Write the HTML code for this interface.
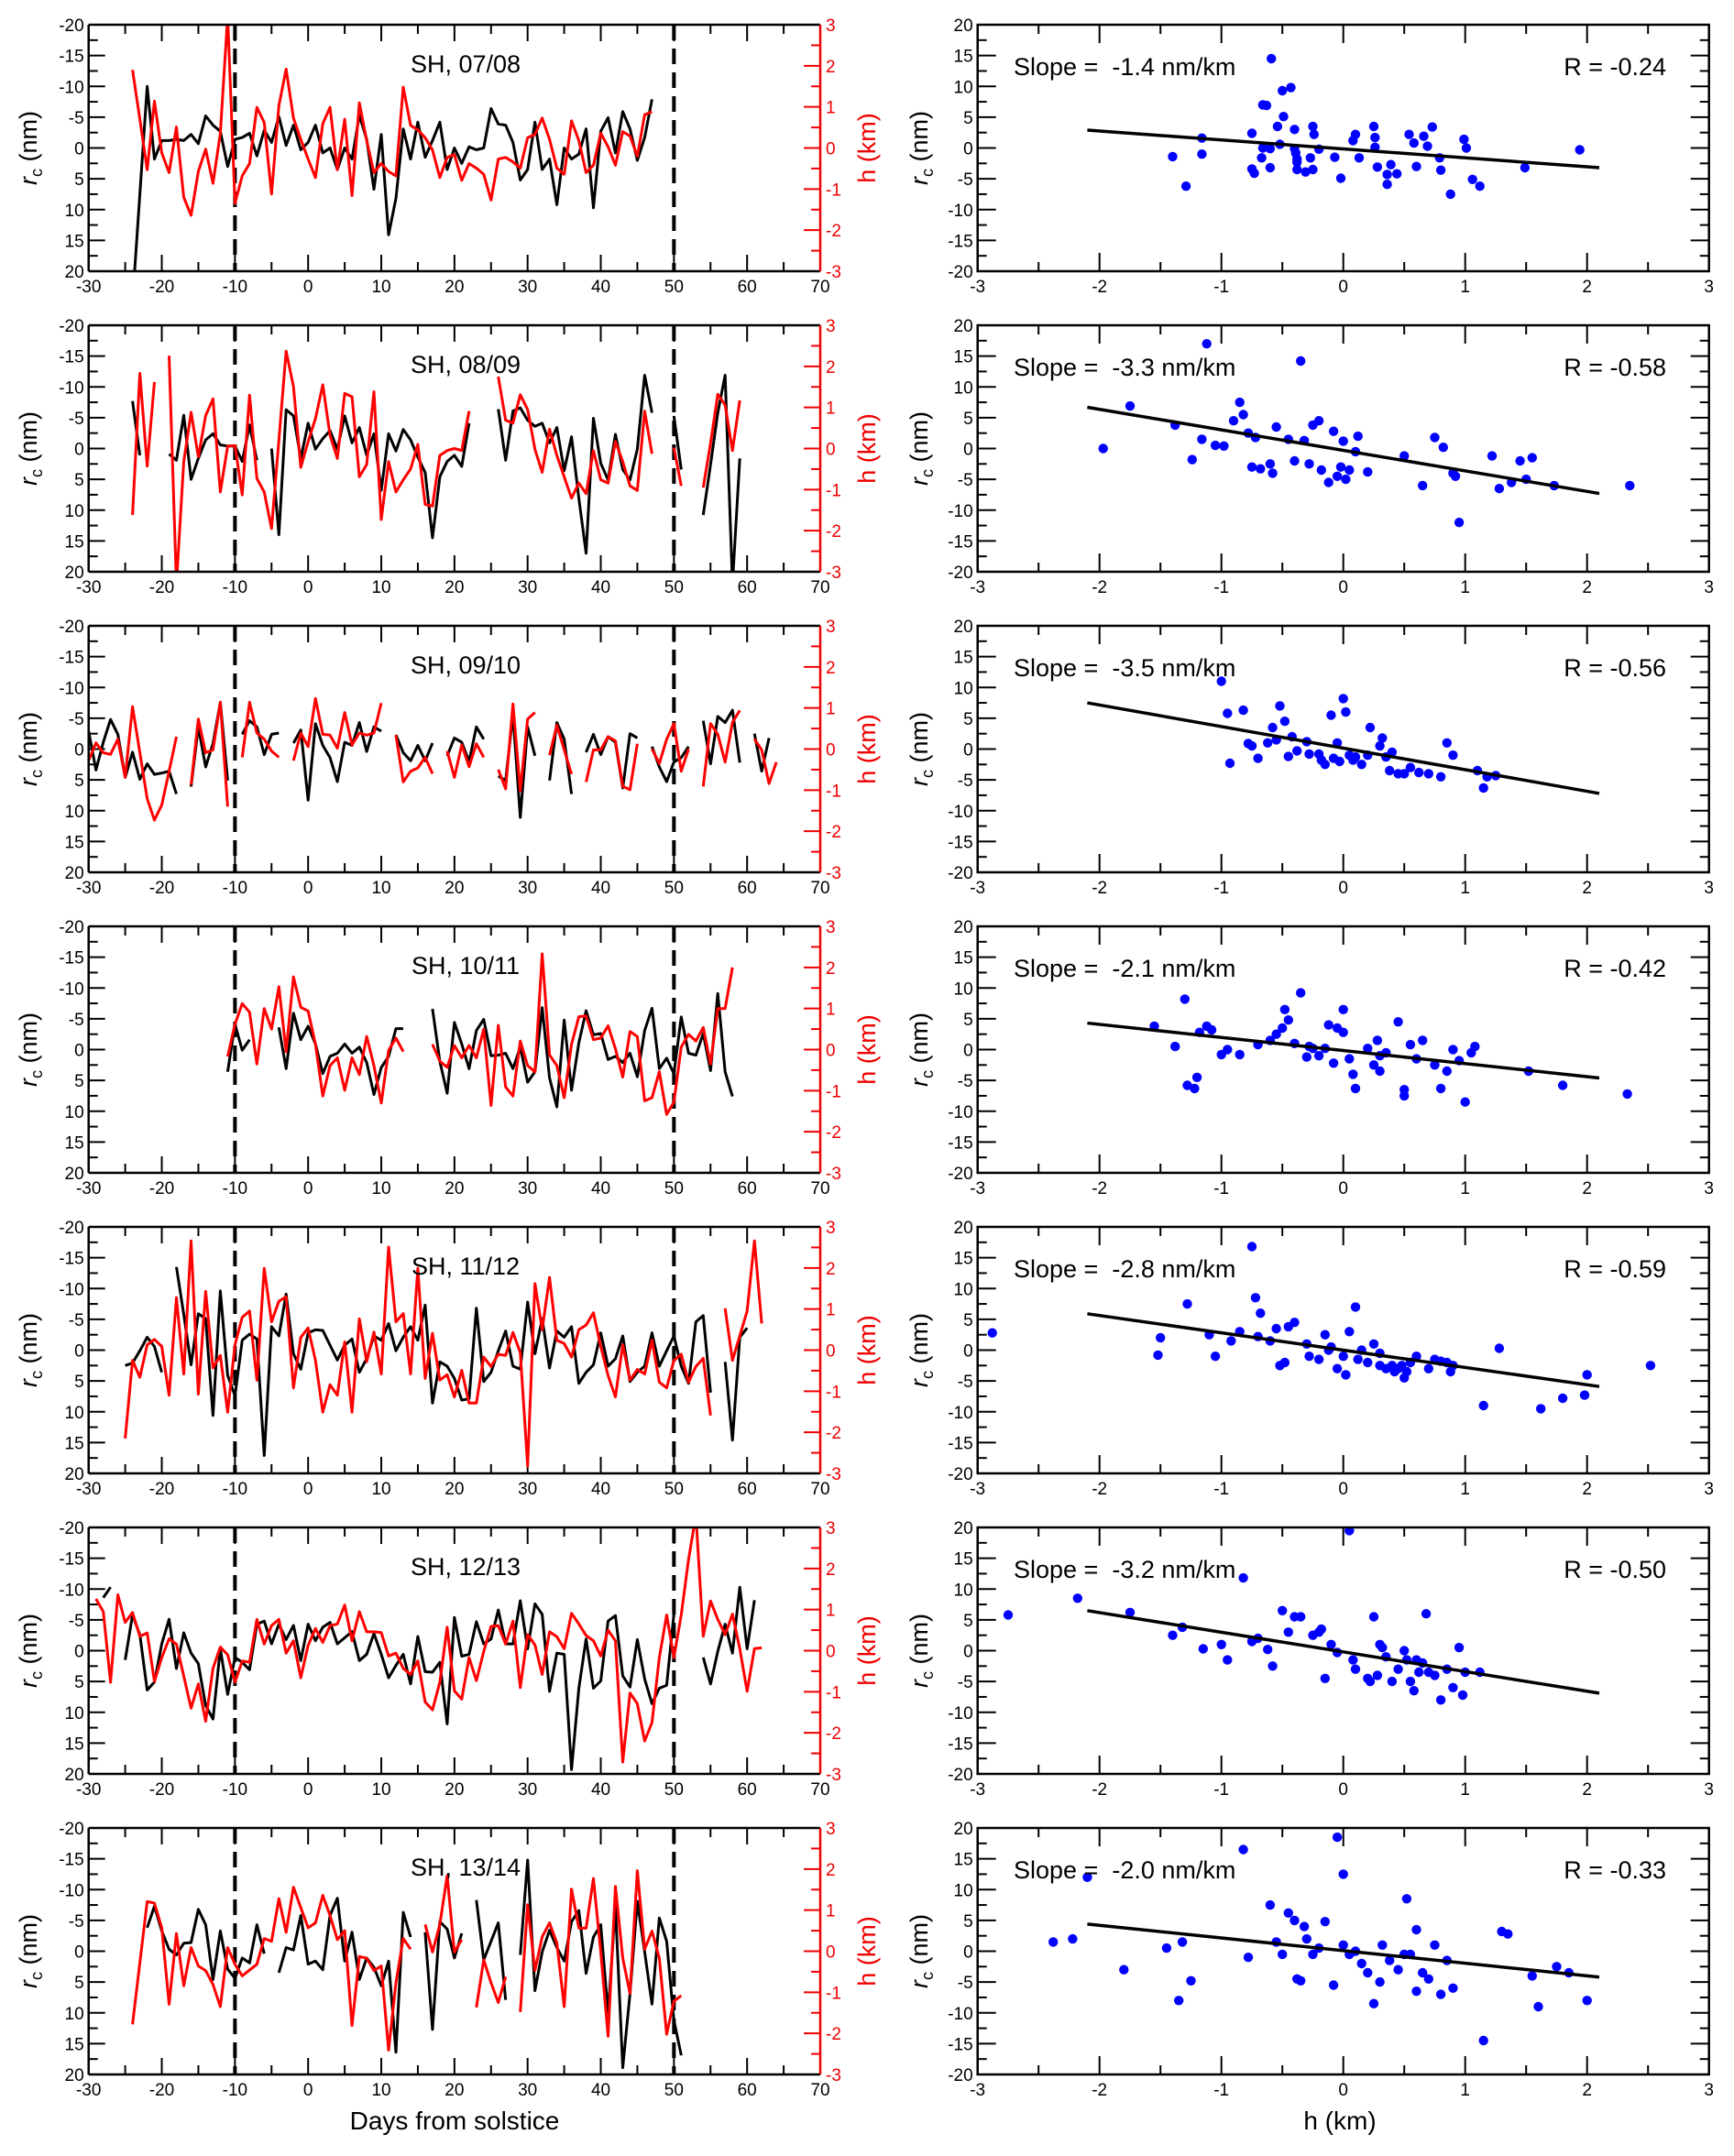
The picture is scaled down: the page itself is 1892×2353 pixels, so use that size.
<!DOCTYPE html>
<html><head><meta charset="utf-8"><title>SH rc vs h</title>
<style>
html,body{margin:0;padding:0;background:#fff;}
svg{display:block;font-family:"Liberation Sans",sans-serif;}
</style></head>
<body>
<svg id="fig" xmlns="http://www.w3.org/2000/svg" width="1892" height="2353" viewBox="0 0 1892 2353">
<rect x="0" y="0" width="1892" height="2353" fill="#fff"/>
<text x="496" y="2324" font-size="28" text-anchor="middle">Days from solstice</text>
<text x="1462" y="2324" font-size="28" text-anchor="middle">h (km)</text>
</svg>
<script>
// ---- data ----
const seasons = ["SH, 07/08","SH, 08/09","SH, 09/10","SH, 10/11","SH, 11/12","SH, 12/13","SH, 13/14"];
const slopeLabels = ["-1.4","-3.3","-3.5","-2.1","-2.8","-3.2","-2.0"];
const rLabels = ["-0.24","-0.58","-0.56","-0.42","-0.59","-0.50","-0.33"];
const fitSlope = [-1.45,-3.33,-3.5,-2.12,-2.81,-3.19,-2.05];
const fitIntercept = [-0.15,-0.3,0.15,-0.15,0,-0.2,0.1];
const rcStart = [-24,-24,-30,-11,-25,-28,-22];
const hStart = [-24,-24,-30,-11,-25,-29,-24];
const n=null;
const rc0=[25,7.5,-10,1.8,-1.2,-1.2,-1.4,-1.2,-2.2,-0.7,-5.2,-3.7,-2.7,3.0,-1.4,-1.7,-2.4,1.3,-2.9,-0.9,-5.1,-0.4,-3.7,0.3,-0.9,-3.7,0.8,0,3.5,0,1.8,-5.3,-1.4,6.7,-2.2,14.1,8.2,-3.1,1.8,-4.2,1.5,-1.2,-4.2,3.5,0,2.5,-0.2,0.3,0,-6.4,-3.9,-3.7,-0.9,5.2,3.5,-4.2,3.5,1.8,9.2,0,1.8,1.0,-3.1,9.7,-2.7,-4.9,0.8,-5.9,-3.1,2.0,-1.7,-7.9];
const h0=[1.9,0.7,-0.53,1.14,-0.12,-0.6,0.51,-1.2,-1.64,-0.57,-0.03,-0.86,0.36,3.2,-1.35,-0.68,-0.38,0.99,0.62,-1.12,1.03,1.92,0.73,0.21,-0.27,-0.72,0.59,0.99,-0.53,0.7,-1.16,1.1,0.18,-0.6,-0.38,-0.57,-0.68,1.48,0.55,0.44,0.25,-0.05,-0.72,-0.23,-0.16,-0.79,-0.38,-0.49,-0.64,-1.27,-0.27,-0.23,-0.34,-0.49,0.25,0.33,0.73,0.21,-0.49,-0.64,0.66,0.18,-0.6,-0.42,0.36,0.03,-0.42,0.4,0.29,-0.2,0.81,0.88];
const rc1=[-7.7,1.1,n,n,n,0.9,1.9,-5.4,5.0,1.6,-1.4,-2.4,-0.6,-0.4,-0.4,2.1,-3.8,1.9,n,0,14,-6.3,-5.3,1.6,-4.1,0.1,-1.6,-2.9,0.1,-5.3,-0.9,-3.4,1.1,-2.4,6.8,-2.4,0.4,-3.1,-1.4,1.4,3.9,14.5,4.6,2.1,1.1,2.9,-4.1,n,n,n,-6.4,1.9,-6.1,-6.6,-4.6,-3.6,-4.1,-0.9,-3.4,3.6,-1.9,8.1,17,-4.9,2.4,5.1,-2.3,3.4,5.1,0.1,-11.9,-5.8,n,n,-5.3,3.4,n,n,10.8,2.6,-5.8,-11.9,22,1.6];
const h1=[-1.62,1.83,-0.43,1.62,n,2.26,-3.3,-0.32,0.88,-0.2,0.8,1.21,-1.06,0.06,0.07,-1.13,1.3,-0.73,-1.06,-1.95,0.2,2.37,1.51,-0.46,0.17,0.73,1.55,0.32,-0.24,1.34,1.26,-0.69,-0.39,1.38,-1.73,-0.32,-1.06,-0.76,-0.5,0.1,-1.36,-1.4,-0.17,-0.05,0,-0.05,0.91,n,n,n,1.75,0.69,0.62,1.31,0.95,-0.02,-0.58,0.47,-0.17,-0.69,-1.21,-0.84,-1.1,-0.05,-0.76,-0.84,0.17,-0.32,-0.91,-1.02,0.91,-0.13,n,n,0.02,-0.91,n,n,-0.95,0.13,1.32,1.06,-0.05,1.17];
const rc2=[-2.9,3.4,-1.1,-4.8,-2.4,4.6,0.5,4.9,2.4,4.1,3.9,3.6,7.3,n,6.1,-3.6,2.9,-0.9,-7.6,5.1,n,-2.4,-4.6,-3.6,0.9,-2.4,-2.6,n,-0.96,-3.1,8.3,-4.1,-0.6,1.4,5.3,-1.1,-0.6,-4.3,0.4,-3.6,-2.9,n,-2.3,0.6,1.9,-0.6,1.9,-0.96,n,1.1,-1.8,-1.1,2.0,-3.6,-1.6,n,4.4,5.1,-5.6,11.1,-3.6,1.1,n,5.1,-4.3,-1.6,7.3,n,0.5,-2.4,0.9,-2.0,-1.1,6.3,-2.5,-1.8,n,-0.4,2.9,5.3,2.1,1.4,-0.4,n,-4.6,2.4,-5.3,-4.3,-6.3,2.2,n,-2.5,3.6,-1.8];
const h2=[-0.28,0.15,-0.09,-0.13,0.24,-0.69,1.03,-0.09,-1.21,-1.73,-1.36,-0.54,0.3,n,-0.87,0.73,-0.09,-0.02,1.14,-1.4,n,-0.2,1.14,0.39,0.24,-0.05,-0.2,n,-0.28,0.39,0.06,1.23,0.36,0.34,0.02,0.89,0.1,0.39,0.34,0.39,1.12,n,0.34,-0.8,-0.54,-0.46,-0.2,-0.6,n,-0.05,-0.69,0.1,-0.43,0.13,-0.2,n,-0.5,-0.97,1.1,-1.02,0.73,0.89,n,-0.15,0.58,-0.02,-0.61,n,-0.8,-0.02,-0.02,0.3,0.2,-0.91,-0.99,0.13,n,0,-0.35,0.24,0.62,-0.54,0,n,-0.91,0.62,0.36,-0.32,0.65,0.94,n,0.24,-0.02,-0.84,-0.32];
const rc3=[3.6,-4.1,0.1,-1.6,n,n,n,-3.6,3.1,-5.9,-1.6,-3.8,-0.9,3.9,1.1,0.6,-0.9,0.6,-0.4,2.1,7.3,2.9,1.1,-3.4,-3.4,n,n,n,-6.6,1.9,7.1,-4.4,-0.9,3.1,-3.1,-4.9,1.0,0.9,0.6,3.1,-0.4,5.3,3.6,-6.8,4.6,9.3,-4.8,6.6,-1.1,-6.3,-2.4,-2.6,1.6,1.1,2.1,0.6,4.4,-3.1,-6.7,3.1,1.4,3.9,-5.3,0.6,0.9,-2.6,3.4,-9.1,3.6,7.6];
const h3=[-0.17,0.62,1.12,0.91,-0.35,1.0,0.5,1.53,-0.05,1.77,1.03,0.94,0.13,-1.13,-0.39,-0.2,-0.99,-0.2,-0.61,0.32,-0.39,-1.3,-0.02,0.28,-0.05,n,n,n,0.13,-0.28,-0.43,0.1,-0.2,0.1,-0.2,0.5,-1.36,0.59,-0.91,-1.13,0.21,-0.39,-0.54,2.33,-0.13,-0.39,-1.17,0.13,0.8,0.82,0.24,0.28,0.58,0.02,-0.67,0.44,0.32,-1.25,-1.17,-0.54,-1.58,-1.28,0.06,0.37,0.21,0.54,-0.35,1.0,1.0,2.0];
const rc4=[2.5,2.1,0.1,-2.1,-0.6,3.6,n,-13.5,-5.8,2.4,-5.9,-5.1,10.6,-9.6,4.1,7.4,-1.6,-2.6,-1.8,17.1,-3.8,-2.3,-9.1,0.6,3.1,-2.8,-3.3,-3.2,-0.8,1.6,-0.8,-1.8,3.6,1.4,-2.3,-1.6,-4.3,0.1,-2.1,-3.8,-1.6,-7.3,8.6,1.9,2.6,4.6,8.1,7.9,-6.8,5.1,3.6,0.1,-3.1,2.6,3.1,-7.8,0.6,-5.1,2.9,-3.1,-2.1,-3.8,5.4,3.6,2.4,-2.8,2.6,1.4,-2.3,5.1,3.6,2.6,-2.8,2.6,0.1,-2.3,2.6,5.4,-4.6,-5.6,6.9,n,1.9,14.6,-2.1,-3.6];
const h4=[-2.15,-0.25,-0.66,0.13,0.26,0.09,-1.1,1.28,-0.58,2.66,-1.07,1.43,-0.43,-0.13,-1.51,0.13,0.8,0.95,-0.73,1.99,0.69,1.19,1.3,-0.92,0.31,0.54,-0.25,-1.51,-0.84,-1.1,0.2,-1.51,0.76,-0.28,0.44,-0.58,2.51,0.69,0.89,-0.58,1.99,-0.69,0.41,-0.73,-0.6,-1.14,-0.49,-1.29,-1.29,-0.17,-0.4,-0.1,-0.13,0.43,-0.06,-2.82,1.62,0.5,1.77,0.24,0.16,-0.17,0.5,0.61,0.91,0.09,-0.62,-1.14,0.13,-0.73,-0.47,-0.58,0.24,-0.78,-0.92,-0.25,-0.1,-0.78,-0.4,-0.2,-1.59,n,1.02,-0.25,0.35,0.95,2.66,0.65];
const rc5=[-8.6,-10.3,n,1.5,-5.8,-2.6,6.4,5.1,-1.1,-5.1,2.9,-2.9,0.4,2.1,8.9,11.1,-0.3,7.1,1.1,1.9,3.1,-4.3,-4.8,-1.1,-4.3,-1.8,-4.1,1.6,-4.3,-1.6,-3.8,-4.6,-1.1,-2.1,-3.1,1.6,0.6,-2.8,0.6,4.4,2.4,0.6,5.4,-2.3,3.4,3.5,1.9,11.9,-5.4,0.9,0.6,-4.7,-1.1,-1.9,-6.6,-1.1,-1.1,-8.1,-0.3,-7.6,-5.9,6.6,0.4,0.6,19.3,6.1,-1.9,6.1,4.9,-4.8,-5.7,4.1,5.9,-1.8,4.6,8.6,6.1,5.6,-5.9,n,n,n,1.1,5.4,0.1,-4.3,0.4,-10.3,-0.3,-8.2];
const h5=[1.26,0.95,-0.77,1.36,0.69,0.93,0.35,0.43,-0.75,-0.17,0.29,0.16,-0.62,-1.4,-0.81,-1.72,-0.43,0.09,-0.1,-0.77,-0.25,-0.28,0.76,0.16,0.61,0.76,-0.06,0.24,-0.66,0.13,0.54,0.2,0.61,0.65,1.11,0.24,0.95,0.46,0.46,0.44,-0.13,-0.06,-0.43,-0.58,-0.25,-1.25,-1.44,-0.77,0.57,-0.98,-1.18,-0.17,-0.73,-0.02,0.59,0.61,0.16,0.72,-0.9,0.39,0.14,-0.58,0.46,0.34,0.05,0.91,0.65,0.37,0.24,-0.13,0.5,0.24,-2.71,-1.03,-1.29,-2.2,-1.75,-0.17,0.87,-0.17,0.87,2.22,3.3,0.35,1.21,0.76,0.39,0.89,0.05,-0.99,0.05,0.07];
const rc6=[-3.8,-7.3,-3.3,-0.3,0.6,-1.3,-1.4,-6.8,-4.3,4.6,-3.3,2.9,4.4,1.1,1.9,-4.3,0.4,n,3.5,-0.6,-0.2,-5.8,2.1,1.6,3.0,-5.8,-8.6,1.6,-3.1,4.6,1.1,2.6,5.6,1.6,16.4,-6.3,-2.3,n,-3.1,12.7,-4.8,-3.6,1.1,-2.9,n,-8.3,1.4,-1.6,-4.6,7.9,n,0.6,-14.8,6.4,0.1,-3.4,-0.6,1.6,-4.8,-6.6,3.6,-2.3,-4.3,10.1,-7.3,18.9,6.9,-8.1,0.1,8.6,-5.4,-1.6,11.2,16.9];
const h6=[-1.78,-0.28,1.21,1.17,0.57,-1.29,0.43,-0.84,0.09,-0.36,-0.47,-0.81,-1.35,0.09,-0.32,-0.6,-0.46,-0.32,0.31,0.24,1.28,0.46,1.56,1.06,0.57,0.69,1.36,0.87,0.28,0.5,-1.81,-0.13,-0.17,-0.47,-0.36,-2.41,-0.77,0.31,0.05,n,0.65,-0.02,0.65,1.84,-0.02,0.28,n,-1.37,-0.21,-0.77,-1.25,-0.62,n,-1.48,1.13,-0.47,0.35,0.69,0.2,-1.35,1.51,0.56,0.56,1.77,-0.02,-2.07,1.58,-0.17,-1.03,1.96,0.05,0.49,-0.17,-2.02,-1.22,-1.08];
const rcSeries=[rc0,rc1,rc2,rc3,rc4,rc5,rc6];
const hSeries=[h0,h1,h2,h3,h4,h5,h6];
// scatter: [h (km), rc (nm)]
const sc0=[[-1.4,-1.4],[-1.29,-6.2],[-1.16,1.6],[-1.16,-1.0],[-0.75,2.4],[-0.75,-3.4],[-0.73,-4.1],[-0.67,-1.6],[-0.66,7.0],[-0.63,6.9],[-0.66,0],[-0.6,-0.1],[-0.6,-3.2],[-0.54,3.5],[-0.52,0.6],[-0.5,9.3],[-0.49,5.1],[-0.43,9.8],[-0.4,3.0],[-0.4,-0.1],[-0.39,-0.8],[-0.38,-1.8],[-0.38,-3.5],[-0.38,-2.3],[-0.31,-3.9],[-0.27,-1.6],[-0.25,3.5],[-0.25,-3.5],[-0.24,2.2],[-0.2,-0.2],[-0.07,-1.5],[-0.02,-4.9],[0.08,1.2],[0.1,2.2],[0.13,-1.6],[0.25,3.5],[0.26,1.7],[0.26,0.1],[0.28,-3.1],[0.36,-4.3],[0.36,-5.9],[0.39,-2.7],[0.44,-4.2],[0.54,2.2],[0.58,0.8],[0.6,-3.0],[0.66,1.9],[0.69,0.3],[0.73,3.4],[0.79,-1.6],[0.8,-3.6],[0.88,-7.5],[0.99,1.4],[1.01,0],[1.06,-5.1],[1.12,-6.2],[1.49,-3.2],[1.94,-0.3],[-0.59,14.5]];
const sc1=[[-1.97,0],[-1.75,6.9],[-1.12,17],[-1.38,3.8],[-1.24,-1.8],[-1.16,1.5],[-1.05,0.5],[-0.98,0.4],[-0.9,4.5],[-0.85,7.5],[-0.82,5.5],[-0.78,2.5],[-0.75,-3],[-0.72,1.8],[-0.68,-3.3],[-0.6,-2.5],[-0.58,-4],[-0.55,3.5],[-0.45,1.5],[-0.4,-2],[-0.35,14.2],[-0.32,1.3],[-0.28,-2.5],[-0.25,3.8],[-0.2,4.5],[-0.18,-3.5],[-0.12,-5.5],[-0.08,2.8],[-0.05,-4.5],[-0.02,-3],[0,1.2],[0.02,-5],[0.05,-3.5],[0.1,-0.5],[0.12,2],[0.2,-3.8],[0.5,-1.2],[0.65,-6],[0.75,1.8],[0.82,0.2],[0.9,-4],[0.92,-4.5],[0.95,-12],[1.22,-1.2],[1.28,-6.5],[1.38,-5.5],[1.45,-2],[1.5,-5],[1.55,-1.5],[1.73,-6],[2.35,-6]];
const sc2=[[-1.0,11],[-0.95,5.8],[-0.93,-2.3],[-0.82,6.3],[-0.78,0.9],[-0.75,0.5],[-0.7,-1.5],[-0.58,3.5],[-0.55,1.5],[-0.52,7],[-0.48,4.5],[-0.45,-1.2],[-0.42,2],[-0.38,-0.3],[-0.3,1.2],[-0.28,-0.8],[-0.2,-0.8],[-0.18,-1.8],[-0.15,-2.5],[-0.1,5.5],[-0.08,-1.5],[-0.05,1],[-0.03,-2],[0,8.2],[0.02,6],[0.05,-1],[0.08,-1.8],[0.1,-1.3],[0.15,-2.5],[0.2,-1],[0.22,3.5],[0.3,0.5],[0.32,1.8],[0.35,-1.3],[0.38,-3.5],[0.4,-0.5],[0.45,-4],[0.5,-4],[0.55,-3],[0.62,-3.8],[0.7,-4],[0.8,-4.5],[0.85,1],[0.9,-1],[1.1,-3.5],[1.15,-6.3],[1.18,-4.5],[1.25,-4.3],[-0.62,1]];
const sc3=[[-1.55,3.8],[-1.38,0.5],[-1.3,8.2],[-1.28,-5.8],[-1.22,-6.3],[-1.2,-4.5],[-1.18,2.8],[-1.12,3.8],[-1.08,3.2],[-1.0,-0.8],[-0.95,0],[-0.85,-0.8],[-0.7,0.8],[-0.6,1.5],[-0.55,2.5],[-0.5,3.5],[-0.48,6.5],[-0.45,4.8],[-0.4,1],[-0.35,9.2],[-0.3,-1.2],[-0.28,0.5],[-0.25,0.2],[-0.2,-1],[-0.15,0.2],[-0.12,4],[-0.08,-2.2],[-0.05,3.5],[0,6.5],[0,2.8],[0.05,-1.5],[0.08,-4],[0.1,-6.3],[0.2,0.2],[0.25,-2.5],[0.28,1.5],[0.3,-1],[0.3,-3.5],[0.35,-0.5],[0.45,4.5],[0.5,-6.5],[0.5,-7.5],[0.55,0.8],[0.6,-1.5],[0.65,1.5],[0.75,-2.5],[0.8,-6.3],[0.85,-3.5],[0.9,0],[0.95,-1.8],[1.0,-8.5],[1.05,-0.5],[1.08,0.5],[1.52,-3.5],[1.8,-5.8],[2.33,-7.2]];
const sc4=[[-2.88,2.8],[-1.52,-0.8],[-1.5,2],[-1.28,7.5],[-1.1,2.5],[-1.05,-1],[-0.92,1.5],[-0.85,3],[-0.75,16.8],[-0.72,8.5],[-0.7,2.2],[-0.68,6],[-0.6,1.5],[-0.55,3.5],[-0.52,-2.5],[-0.48,-2],[-0.45,3.8],[-0.4,4.5],[-0.3,1],[-0.28,-1],[-0.2,-1.5],[-0.15,2.5],[-0.12,0],[-0.1,0.5],[-0.05,-3],[0,-1],[0.02,-4],[0.05,3],[0.1,7],[0.12,-1.5],[0.15,0],[0.2,-2],[0.25,1],[0.3,-0.5],[0.3,-2.5],[0.35,-3],[0.4,-2.5],[0.42,-3.5],[0.45,-3],[0.48,-2.5],[0.5,-4.5],[0.52,-3.5],[0.55,-2],[0.6,-1],[0.7,-3],[0.75,-1.5],[0.8,-1.8],[0.85,-2],[0.88,-3.5],[0.9,-2.5],[1.15,-9],[1.28,0.3],[1.62,-9.5],[1.8,-7.8],[1.98,-7.3],[2.0,-4],[2.52,-2.5]];
const sc5=[[-2.75,5.8],[-2.18,8.5],[-1.75,6.2],[-1.4,2.5],[-1.32,3.8],[-1.15,0.3],[-1.0,1],[-0.95,-1.5],[-0.82,11.8],[-0.75,1.5],[-0.7,2],[-0.62,0.2],[-0.58,-2.5],[-0.5,6.5],[-0.45,3],[-0.4,5.5],[-0.35,5.5],[-0.25,2.5],[-0.2,3],[-0.18,3.5],[-0.15,-4.5],[-0.1,1],[-0.05,-0.3],[0.05,19.5],[0.08,-1.5],[0.1,-3],[0.2,-4.5],[0.22,-5],[0.25,5.5],[0.28,-4],[0.3,1],[0.32,0.5],[0.35,-1],[0.4,-5],[0.45,-3],[0.5,0],[0.52,-1.5],[0.55,-5],[0.58,-6.5],[0.6,-1.5],[0.62,-3.5],[0.65,-2],[0.68,6],[0.7,-3.5],[0.75,-4],[0.8,-8],[0.85,-3],[0.9,-6],[0.95,0.5],[0.98,-7.2],[1.0,-3.5],[1.12,-3.5]];
const sc6=[[-2.38,1.5],[-2.22,2],[-2.1,12],[-1.8,-3],[-1.45,0.5],[-1.35,-8],[-1.32,1.5],[-1.25,-4.8],[-0.82,16.5],[-0.78,-1],[-0.6,7.5],[-0.55,1.5],[-0.5,-0.5],[-0.45,6.2],[-0.4,5],[-0.38,-4.5],[-0.35,-4.8],[-0.32,4],[-0.3,2],[-0.25,-0.5],[-0.2,0.5],[-0.15,4.8],[-0.08,-5.5],[-0.05,18.5],[0,12.5],[0,1],[0.05,-0.5],[0.1,0],[0.15,-2],[0.2,-3.5],[0.25,-8.5],[0.3,-5],[0.32,1],[0.38,-1.5],[0.45,-3],[0.5,-0.5],[0.52,8.5],[0.55,-0.5],[0.6,-6.5],[0.6,3.5],[0.65,-3.5],[0.7,-4.5],[0.75,1],[0.8,-7],[0.85,-1.5],[0.9,-6],[1.15,-14.5],[1.3,3.2],[1.35,2.8],[1.55,-4],[1.6,-9],[1.75,-2.5],[1.85,-3.5],[2.0,-8]];
const scatterSets=[sc0,sc1,sc2,sc3,sc4,sc5,sc6];
const dayTicks=[-30,-20,-10,0,10,20,30,40,50,60,70];
const rcTicksLeft=[-20,-15,-10,-5,0,5,10,15,20];
const hTicks=[-3,-2,-1,0,1,2,3];
const hxTicks=[-3,-2,-1,0,1,2,3];
const rcTicksRight=[20,15,10,5,0,-5,-10,-15,-20];
const markerDays=[-10,50];

// ---- layout ----
const NS="http://www.w3.org/2000/svg";
const svg=document.getElementById('fig');
const LX0=96.7, LX1=895, RX0=1066.7, RX1=1864.7, TOP0=27, STEP=328, PH=269;
function el(tag,attrs,parent){const e=document.createElementNS(NS,tag);for(const k in attrs)e.setAttribute(k,attrs[k]);(parent||svg).appendChild(e);return e;}
function line(p,x1,y1,x2,y2,c,w){return el('line',{x1:x1,y1:y1,x2:x2,y2:y2,stroke:c,'stroke-width':w},p);}

for(let i=0;i<7;i++){
  const top=TOP0+STEP*i, bot=top+PH;
  const dx=d=>LX0+(d+30)/100*(LX1-LX0);
  const rcy=v=>top+(v+20)/40*PH;        // left: -20 at top
  const hy=v=>top+(3-v)/6*PH;           // red: 3 at top
  const sx=v=>RX0+(v+3)/6*(RX1-RX0);
  const sy=v=>top+(20-v)/40*PH;         // right: 20 at top

  // ---------- left panel ----------
  const gl=el('g',{});
  
  
  const cp=el('clipPath',{id:'cl'+i},gl);
  el('rect',{x:LX0,y:top,width:LX1-LX0,height:PH},cp);
  // ticks
  for(let d=-30;d<=70;d+=5){
    const len=(d%10===0)?18:10;
    line(gl,dx(d),bot,dx(d),bot-len,'#000',2);
    line(gl,dx(d),top,dx(d),top+len,'#000',2);
  }
  for(let v=-20;v<=20;v+=2.5){
    const len=(v%5===0)?18:10;
    line(gl,LX0,rcy(v),LX0+len,rcy(v),'#000',2);
  }
  for(let v=-3;v<=3;v+=0.5){
    const len=(Number.isInteger(v))?18:10;
    line(gl,LX1,hy(v),LX1-len,hy(v),'#e00',2);
  }
  // tick labels
  dayTicks.forEach(d=>{const t=el('text',{x:dx(d),y:bot+23,'font-size':19,'text-anchor':'middle'},gl);t.textContent=d;
    
    });
  rcTicksLeft.forEach(v=>{const t=el('text',{x:LX0-5,y:rcy(v)+7,'font-size':19,'text-anchor':'end'},gl);t.textContent=v;
    
    });
  hTicks.forEach(v=>{const t=el('text',{x:LX1+6,y:hy(v)+7,'font-size':19,fill:'#e00'},gl);t.textContent=v;
    
    });
  // marker lines
  markerDays.forEach(d=>{const m=line(gl,dx(d),top,dx(d),bot,'#000',4);m.setAttribute('stroke-dasharray','17,9');
    
    });
  // series
  function drawSeries(arr,start,mapY,color,name){
    let segs=[],cur=[];
    arr.forEach((v,k)=>{if(v===null){if(cur.length)segs.push(cur);cur=[];}else cur.push([dx(start+k),mapY(v)]);});
    if(cur.length)segs.push(cur);
    segs.forEach(s=>{if(s.length<2)return;
      const p=el('polyline',{points:s.map(q=>q[0].toFixed(1)+','+q[1].toFixed(1)).join(' '),fill:'none',stroke:color,'stroke-width':3,'stroke-linejoin':'round','clip-path':'url(#cl'+i+')'},gl);
      
      });
  }
  drawSeries(rcSeries[i],rcStart[i],rcy,'#000','rc-series-line');
  drawSeries(hSeries[i],hStart[i],hy,'#f00','h-series-line');
  // axes frame
  line(gl,LX0,top,LX1,top,'#000',2.5);
  line(gl,LX0,bot,LX1,bot,'#000',2.5);
  line(gl,LX0,top,LX0,bot,'#000',2.5);
  line(gl,LX1,top,LX1,bot,'#e00',2.5);
  // titles
  const tt=el('text',{x:508,y:top+52,'font-size':27,'text-anchor':'middle'},gl);tt.textContent=seasons[i];
  
  
  const yl=el('text',{x:0,y:0,'font-size':27,'text-anchor':'middle',transform:'translate(40,'+(top+PH/2)+') rotate(-90)'},gl);
  yl.innerHTML='<tspan font-style="italic">r</tspan><tspan font-size="18" dy="6">c</tspan><tspan dy="-6"> (nm)</tspan>';
  
  
  const y2=el('text',{x:0,y:0,'font-size':27,'text-anchor':'middle',fill:'#e00',transform:'translate(955,'+(top+PH/2)+') rotate(-90)'},gl);
  y2.textContent='h (km)';
  
  

  // ---------- right panel ----------
  const gr=el('g',{});
  
  
  const cp2=el('clipPath',{id:'cr'+i},gr);
  el('rect',{x:RX0,y:top,width:RX1-RX0,height:PH},cp2);
  for(let v=-3;v<=3;v+=0.5){
    const len=(Number.isInteger(v))?20:10;
    line(gr,sx(v),bot,sx(v),bot-len,'#000',2);
    line(gr,sx(v),top,sx(v),top+len,'#000',2);
  }
  for(let v=-20;v<=20;v+=2.5){
    const len=(v%5===0)?20:10;
    line(gr,RX0,sy(v),RX0+len,sy(v),'#000',2);
    line(gr,RX1,sy(v),RX1-len,sy(v),'#000',2);
  }
  hxTicks.forEach(v=>{const t=el('text',{x:sx(v),y:bot+23,'font-size':19,'text-anchor':'middle'},gr);t.textContent=v;
    
    });
  rcTicksRight.forEach(v=>{const t=el('text',{x:RX0-5,y:sy(v)+7,'font-size':19,'text-anchor':'end'},gr);t.textContent=v;
    
    });
  scatterSets[i].forEach(p=>{const c=el('circle',{cx:sx(p[0]).toFixed(1),cy:sy(p[1]).toFixed(1),r:5.2,fill:'#0000ff','clip-path':'url(#cr'+i+')'},gr);
    
    });
  const fx1=-2.1, fx2=2.1;
  const fl=line(gr,sx(fx1),sy(fitSlope[i]*fx1+fitIntercept[i]),sx(fx2),sy(fitSlope[i]*fx2+fitIntercept[i]),'#000',3.5);
  
  
  el('rect',{x:RX0,y:top,width:RX1-RX0,height:PH,fill:'none',stroke:'#000','stroke-width':2.5},gr);
  const st=el('text',{x:1106,y:top+55,'font-size':27},gr);st.setAttribute('xml:space','preserve');st.style.whiteSpace='pre';
  st.textContent='Slope =  '+slopeLabels[i]+' nm/km';
  
  
  const rt=el('text',{x:1818,y:top+55,'font-size':27,'text-anchor':'end'},gr);
  rt.textContent='R = '+rLabels[i];
  
  
  const yl2=el('text',{x:0,y:0,'font-size':27,'text-anchor':'middle',transform:'translate(1012,'+(top+PH/2)+') rotate(-90)'},gr);
  yl2.innerHTML='<tspan font-style="italic">r</tspan><tspan font-size="18" dy="6">c</tspan><tspan dy="-6"> (nm)</tspan>';
  
  
}
</script>
</body></html>
